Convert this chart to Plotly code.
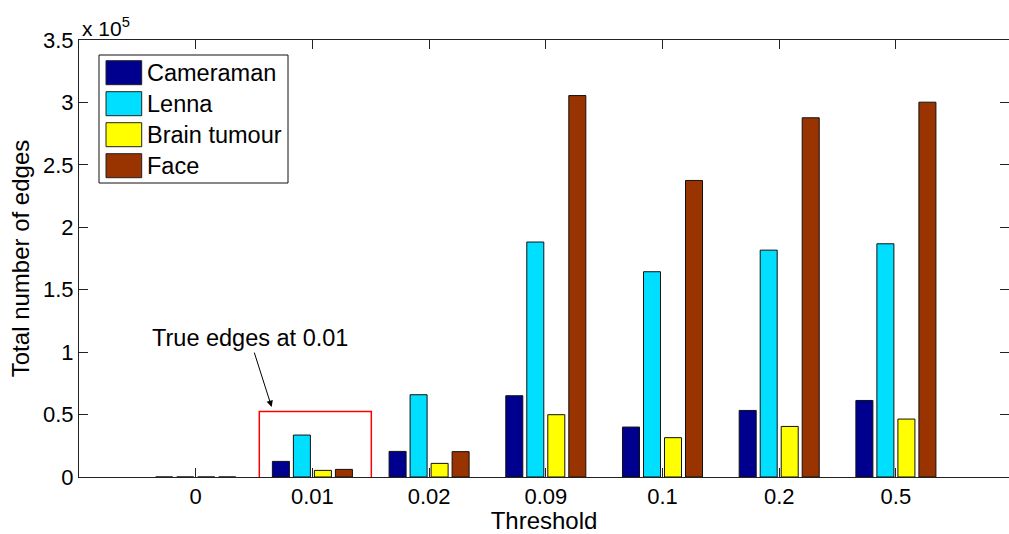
import plotly.graph_objects as go

# ---- data ----
thresholds = ["0", "0.01", "0.02", "0.09", "0.1", "0.2", "0.5"]
series_names = ["Cameraman", "Lenna", "Brain tumour", "Face"]
cameraman = [0, 12500, 20500, 65100, 40000, 53300, 61300]
lenna = [0, 33600, 65900, 188200, 164400, 181700, 186800]
brain = [0, 5300, 10900, 49900, 31500, 40500, 46400]
face = [0, 6100, 20300, 305500, 237500, 287700, 300200]
series_values = [cameraman, lenna, brain, face]
colors = ["#00008F", "#00DFFF", "#FFFF00", "#993300"]
ytick_vals = [0, 50000, 100000, 150000, 200000, 250000, 300000, 350000]
ytick_text = ["0", "0.5", "1", "1.5", "2", "2.5", "3", "3.5"]

FONT = "Liberation Sans, Arial, sans-serif"
W, H = 1009, 534
ML, MT, MB, MR = 79, 40, 57, 0
PW, PH = W - ML - MR, H - MT - MB

fig = go.Figure()
for name, vals, col in zip(series_names, series_values, colors):
    fig.add_trace(go.Bar(
        x=thresholds, y=vals, name=name,
        marker=dict(color=col, line=dict(color="#111111", width=1)),
        showlegend=False,
    ))

unit = 116.7  # px per category
xmax = -1 + PW / unit

fig.update_layout(
    width=W, height=H,
    margin=dict(l=ML, r=MR, t=MT, b=MB),
    paper_bgcolor="white", plot_bgcolor="white",
    barmode="group", bargap=0.28, bargroupgap=0.19,
    font=dict(family=FONT, size=22, color="black"),
    xaxis=dict(
        type="category", range=[-1, xmax],
        showline=True, linecolor="#222222", linewidth=1, mirror="ticks",
        ticks="inside", ticklen=9, tickcolor="#222222",
        showgrid=False, zeroline=False,
        tickfont=dict(size=22),
        title=dict(text="Threshold", font=dict(size=24), standoff=1),
    ),
    yaxis=dict(
        range=[0, 350000],
        tickvals=ytick_vals, ticktext=ytick_text,
        showline=True, linecolor="#222222", linewidth=1, mirror="ticks",
        ticks="inside", ticklen=9, tickcolor="#222222",
        showgrid=False, zeroline=False,
        tickfont=dict(size=22),
        title=dict(text="Total number of edges", font=dict(size=24), standoff=6),
    ),
)

def px_x(p):
    return (p - ML) / PW

def px_y(p):
    return 1 - (p - MT) / PH

# exponent label
fig.add_annotation(
    x=px_x(80), y=px_y(40), xref="x domain", yref="y domain",
    xanchor="left", yanchor="bottom", showarrow=False,
    text="x 10<sup>5</sup>", font=dict(size=21), yshift=-2,
)

# manual legend (large patches like the reference)
fig.add_shape(type="rect", xref="x domain", yref="y domain",
              x0=px_x(99), x1=px_x(288), y0=px_y(183), y1=px_y(55),
              line=dict(color="#111111", width=1), fillcolor="white")
for i, (name, col) in enumerate(zip(series_names, colors)):
    top = 60.7 + 31 * i
    fig.add_shape(type="rect", xref="x domain", yref="y domain",
                  x0=px_x(106), x1=px_x(141.7), y0=px_y(top + 24), y1=px_y(top),
                  line=dict(color="#222222", width=1), fillcolor=col)
    fig.add_annotation(x=px_x(145), y=px_y(top + 12), xref="x domain", yref="y domain",
                       xanchor="left", yanchor="middle", showarrow=False,
                       text=name, font=dict(size=23.5))

# highlighted region around 0.01
fig.add_shape(type="rect", xref="x", yref="y",
              x0=0.545, x1=1.505, y0=-1500, y1=52500,
              line=dict(color="#FF0000", width=1.5))
fig.add_annotation(x=0.651, y=56000, xref="x", yref="y",
                   text="True edges at 0.01", font=dict(size=23.5),
                   showarrow=True, arrowhead=2, arrowsize=1.3, arrowwidth=1,
                   arrowcolor="black", ax=-22, ay=-69, standoff=0)

fig.write_html("out.html")
